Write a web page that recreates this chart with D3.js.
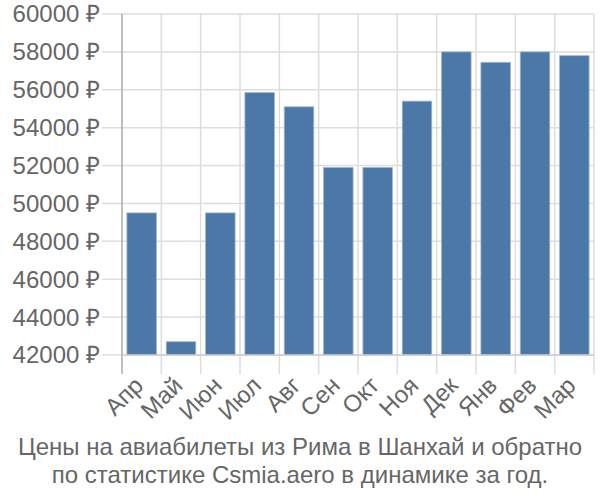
<!DOCTYPE html>
<html><head><meta charset="utf-8">
<script src="https://cdn.jsdelivr.net/npm/d3@7"></script>
<style>body{margin:0;background:#fff}svg{display:block}</style>
</head><body>
<svg id="c" width="600" height="500"></svg>
<script>
const months = ["Апр","Май","Июн","Июл","Авг","Сен","Окт","Ноя","Дек","Янв","Фев","Мар"];
const prices = [49500,42700,49500,55850,55100,51900,51900,55400,58000,57450,58000,57800];
const yTicks = [42000,44000,46000,48000,50000,52000,54000,56000,58000,60000];
const titleLines = ["Цены на авиабилеты из Рима в Шанхай и обратно","по статистике Csmia.aero в динамике за год."];

(function(){
const svg = d3.select("#c");
const pL = 122, pR = 594, pT = 14, pB = 355;
const x = d3.scaleBand().domain(months).range([pL, pR]).paddingInner(0.25).paddingOuter(0.125);
const xg = d3.scaleBand().domain(months).range([pL, pR]);
const y = d3.scaleLinear().domain([42000, 60000]).range([pB, pT]);
const font = "'Liberation Sans', Arial, sans-serif";

svg.append("g").selectAll("line").data(yTicks).join("line")
  .attr("x1", pL - 20).attr("x2", pR).attr("y1", d => y(d)).attr("y2", d => y(d))
  .attr("stroke", "#ddd").attr("stroke-width", 1.5);
const vx = months.map(m => xg(m)).concat([pR]);
svg.append("g").selectAll("line").data(vx).join("line")
  .attr("x1", d => d).attr("x2", d => d).attr("y1", pT).attr("y2", pB + 19)
  .attr("stroke", (d,i) => i === 0 ? "#aaa" : "#ddd").attr("stroke-width", 1.5);

svg.append("g").selectAll("rect").data(prices).join("rect")
  .attr("x", (d,i) => x(months[i])).attr("width", x.bandwidth())
  .attr("y", d => y(d)).attr("height", d => pB - y(d))
  .attr("fill", "#4c78a8").attr("stroke", "#9db5d2").attr("stroke-width", 0.8);

svg.append("line").attr("x1", pL).attr("x2", pR).attr("y1", pB).attr("y2", pB)
  .attr("stroke", "#ccc").attr("stroke-width", 1.5);

svg.append("g").selectAll("text").data(yTicks).join("text")
  .attr("x", 100).attr("y", d => y(d)).attr("dy", "0.35em")
  .attr("text-anchor", "end").attr("font-family", font).attr("font-size", 24).attr("fill", "#666")
  .text(d => d + " ₽");

svg.append("g").selectAll("text").data(months).join("text")
  .attr("transform", m => `translate(${xg(m) + xg.bandwidth()/2 - 3},${pB + 26}) rotate(-45)`)
  .attr("dy", "0.35em")
  .attr("text-anchor", "end").attr("font-family", font).attr("font-size", 24).attr("fill", "#666")
  .text(m => m);

svg.append("g").selectAll("text").data(titleLines).join("text")
  .attr("x", 300).attr("y", (d,i) => 455 + i * 28)
  .attr("text-anchor", "middle").attr("font-family", font).attr("font-size", 24).attr("fill", "#666")
  .text(d => d);
})();
</script>
</body></html>
